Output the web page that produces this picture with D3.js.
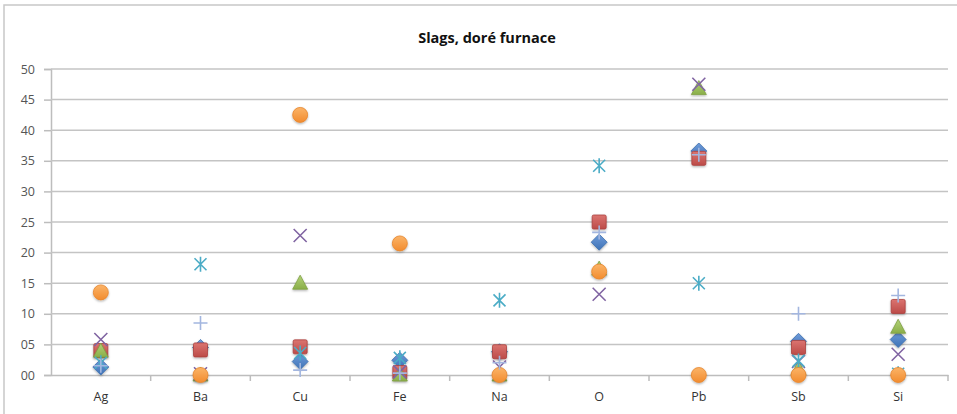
<!DOCTYPE html>
<html><head><meta charset="utf-8">
<script src="https://cdn.jsdelivr.net/npm/d3@7"></script>
<style>html,body{margin:0;padding:0;background:#fff;}svg{display:block;}</style>
</head><body>
<svg id="chart" width="957" height="414"></svg>
<script>
const categories = ["Ag","Ba","Cu","Fe","Na","O","Pb","Sb","Si"];
const yTicks = [0,5,10,15,20,25,30,35,40,45,50];
const yTickLabels = ["00","05","10","15","20","25","30","35","40","45","50"];
const s1Diamond  = [1.3, 4.5, 2.2, 2.4, 3.8, 21.7, 36.6, 5.5, 5.8];
const s2Square   = [4.0, 4.1, 4.6, 0.4, 3.8, 25.0, 35.4, 4.5, 11.2];
const s3Triangle = [3.9, 0.0, 15.0, 0.0, 0.0, 17.3, 46.8, 1.0, 7.8];
const s4Cross    = [5.8, 0.2, 22.8, 0.5, 1.3, 13.2, 47.5, 2.2, 3.4];
const s5Star     = [2.0, 18.1, 3.6, 2.8, 12.2, 34.2, 15.0, 2.3, 0.2];
const s6Circle   = [13.5, 0.0, 42.5, 21.5, 0.0, 16.9, 0.0, 0.0, 0.0];
const s7Plus     = [1.5, 8.5, 0.8, 0.3, 2.0, 23.3, 36.0, 10.0, 13.0];
const title = "Slags, doré furnace";

const svg = d3.select("#chart");
const W = 957, H = 414;
const m = {left: 51, right: 9, top: 69, bottom: 39};
const x = d3.scaleBand().domain(categories).range([m.left, W - m.right]).padding(0);
const y = d3.scaleLinear().domain([0, 50]).range([H - m.bottom, m.top]);

svg.append("rect").attr("x", 4).attr("y", 5).attr("width", 960).attr("height", 420)
  .attr("fill", "#fff").attr("stroke", "#c8c8c8").attr("stroke-width", 1.5);

const defs = svg.append("defs");
const f = defs.append("filter").attr("id","sh").attr("x","-50%").attr("y","-50%").attr("width","200%").attr("height","200%");
f.append("feDropShadow").attr("dx",0).attr("dy",1.2).attr("stdDeviation",1.1).attr("flood-color","#000").attr("flood-opacity",0.3);
function grad(id, c1, c2){
  const g = defs.append("linearGradient").attr("id", id).attr("x1",0).attr("y1",0).attr("x2",0).attr("y2",1);
  g.append("stop").attr("offset","0%").attr("stop-color",c1);
  g.append("stop").attr("offset","100%").attr("stop-color",c2);
}
grad("gBlue", "#6E9BDA", "#3F73B6");
grad("gRed", "#DB7470", "#BC4B48");
grad("gGreen", "#B2D277", "#8AAE48");
grad("gOrange", "#FBB468", "#F28C2F");

const yAxis = d3.axisLeft(y).tickValues(yTicks).tickFormat((d,i)=>yTickLabels[i]).tickSize(7).tickPadding(9);
const gy = svg.append("g").attr("transform", `translate(${m.left},0)`).call(yAxis);
gy.select(".domain").attr("stroke","#bdbdbd").attr("stroke-width",1.5);
gy.selectAll(".tick line").attr("stroke","#bdbdbd").attr("stroke-width",1.5);
gy.selectAll(".tick text").attr("fill","#555").attr("font-family","Open Sans, sans-serif").attr("font-size",12.5);

svg.append("g").selectAll("line").data(yTicks.slice(1)).join("line")
  .attr("x1", m.left).attr("x2", W - m.right)
  .attr("y1", d => y(d)).attr("y2", d => y(d))
  .attr("stroke","#c4c4c4").attr("stroke-width",1.5);

const xAxis = d3.axisBottom(x).tickSize(0).tickPadding(17);
const gx = svg.append("g").attr("transform", `translate(0,${y(0)})`).call(xAxis);
gx.select(".domain").attr("stroke","#bdbdbd").attr("stroke-width",1.5);
gx.selectAll(".tick text").attr("fill","#333").attr("font-family","Open Sans, sans-serif").attr("font-size",12.5);
const bounds = categories.map(c => x(c)).slice(1).concat([x(categories[categories.length-1]) + x.bandwidth()]);
svg.append("g").selectAll("line").data(bounds).join("line")
  .attr("x1", d=>d).attr("x2", d=>d).attr("y1", y(0)).attr("y2", y(0)+6)
  .attr("stroke","#bdbdbd").attr("stroke-width",1.5);

svg.append("text").attr("x", 487).attr("y", 43).attr("text-anchor","middle")
  .attr("font-family","Open Sans, sans-serif").attr("font-weight","bold")
  .attr("font-size",14.5).attr("fill","#111").text(title);

const cx = i => x(categories[i]) + x.bandwidth()/2;
const plot = svg.append("g");

function series(data, draw){
  const g = plot.append("g");
  data.forEach((v,i)=>{ if (v===null) return; draw(g.append("g").attr("transform",`translate(${cx(i)},${y(v)})`)); });
}
series(s1Diamond, g => g.append("path").attr("d","M0,-8L8,0L0,8L-8,0Z").attr("fill","url(#gBlue)").attr("stroke","#3D6EAD").attr("stroke-width",0.8).attr("filter","url(#sh)"));
series(s2Square, g => g.append("rect").attr("x",-7).attr("y",-7).attr("width",14).attr("height",14).attr("rx",1.5).attr("fill","url(#gRed)").attr("stroke","#A9403D").attr("stroke-width",0.8).attr("filter","url(#sh)"));
series(s3Triangle, g => g.append("path").attr("d","M0,-8L7.5,6L-7.5,6Z").attr("fill","url(#gGreen)").attr("stroke","#7F9F42").attr("stroke-width",0.8).attr("filter","url(#sh)"));
series(s4Cross, g => g.append("path").attr("d","M-6.5,-6.5L6.5,6.5M6.5,-6.5L-6.5,6.5").attr("stroke","#8064A2").attr("stroke-width",1.6).attr("fill","none"));
series(s5Star, g => g.append("path").attr("d","M-6,-6L6,6M6,-6L-6,6M0,-7.5L0,7.5").attr("stroke","#4BACC6").attr("stroke-width",1.6).attr("fill","none"));
series(s6Circle, g => g.append("circle").attr("r",7.5).attr("fill","url(#gOrange)").attr("stroke","#E7852C").attr("stroke-width",0.8).attr("filter","url(#sh)"));
series(s7Plus, g => g.append("path").attr("d","M-7,0L7,0M0,-7L0,7").attr("stroke","#A3B6DF").attr("stroke-width",1.6).attr("fill","none"));
</script>
</body></html>
